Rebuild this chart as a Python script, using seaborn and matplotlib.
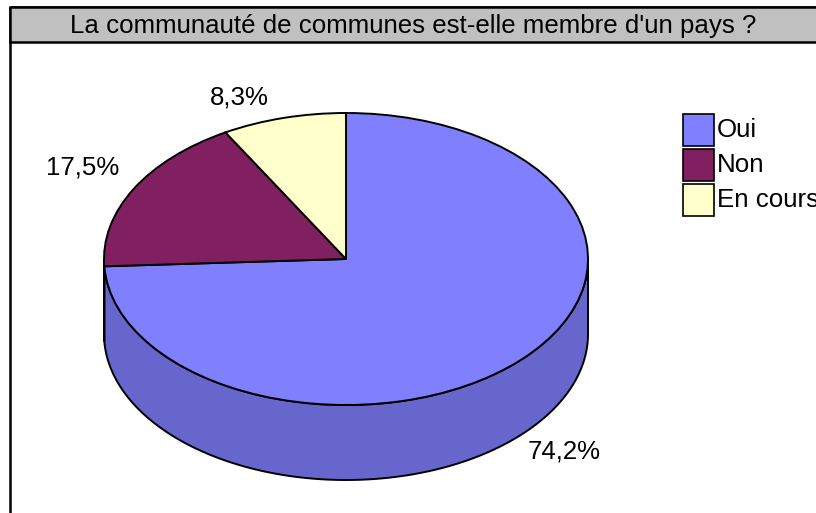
import numpy as np
import matplotlib.pyplot as plt
from matplotlib.patches import Rectangle, Polygon
import seaborn as sns

# ---------------- data ----------------
title = "La communauté de communes est-elle membre d'un pays ?"
categories = ['Oui', 'Non', 'En cours']
shares = [74.2, 17.5, 8.3]
top_colors = ['#8080FF', '#802060', '#FFFFCC']
side_colors = ['#6666CC', '#661A4D', '#CCCCA3']

sns.set_theme(style='white')
plt.rcParams['font.family'] = ['Liberation Sans', 'DejaVu Sans']

W, H = 816, 513
fig = plt.figure(figsize=(W / 100, H / 100), dpi=100)

# background axes in pixel coordinates (frame, title box, legend, labels)
bg = fig.add_axes([0, 0, 1, 1])
bg.set_xlim(0, W)
bg.set_ylim(H, 0)
bg.axis('off')

# pie axes: unit circle is squashed into the ellipse of the 3D pie top
cx, cy, rx, ry = 346, 259, 242, 146
depth = 75 / ry
ax = fig.add_axes([0, 0, 1, 1])
ax.patch.set_alpha(0)
wedges, _ = ax.pie(shares, colors=top_colors, startangle=90, counterclock=False,
                   wedgeprops=dict(edgecolor='black', linewidth=1.4))
for w in wedges:
    w.set_zorder(3)

# side wall (front half of the cylinder)
for w, col in zip(wedges, side_colors):
    for shift in (-360, 0, 360):
        lo = max(w.theta1 + shift, 180)
        hi = min(w.theta2 + shift, 360)
        if hi <= lo:
            continue
        t = np.radians(np.linspace(lo, hi, 200))
        top = np.column_stack([np.cos(t), np.sin(t)])
        bot = np.column_stack([np.cos(t), np.sin(t) - depth])
        ax.add_patch(Polygon(np.vstack([top, bot[::-1]]), closed=True,
                             facecolor=col, edgecolor='black', linewidth=1.4, zorder=1))

ax.set_xlim(-cx / rx, (W - cx) / rx)
ax.set_ylim((cy - H) / ry, cy / ry)
ax.set_aspect('auto')
ax.axis('off')

# frame and title box
bg.add_patch(Rectangle((10, 7), 900, 600, fill=False, edgecolor='black', linewidth=1.8))
bg.add_patch(Rectangle((10, 7), 900, 35, facecolor='#C0C0C0', edgecolor='black', linewidth=1.8))
bg.text(413, 26, title, ha='center', va='center', fontsize=18.6, color='black')

# percentage labels
label_pos = [(564, 452), (83, 167), (239, 97)]
for v, (x, y) in zip(shares, label_pos):
    bg.text(x, y, f"{v:.1f}".replace('.', ',') + '%', ha='center', va='center',
            fontsize=18.6, color='black')

# legend
for i, (cat, col) in enumerate(zip(categories, top_colors)):
    y0 = 114 + i * 35
    bg.add_patch(Rectangle((683, y0), 31, 32, facecolor=col, edgecolor='black', linewidth=1.2))
    bg.text(717, y0 + 16, cat, ha='left', va='center', fontsize=18.6, color='black')

fig.savefig('out.png', dpi=100)
